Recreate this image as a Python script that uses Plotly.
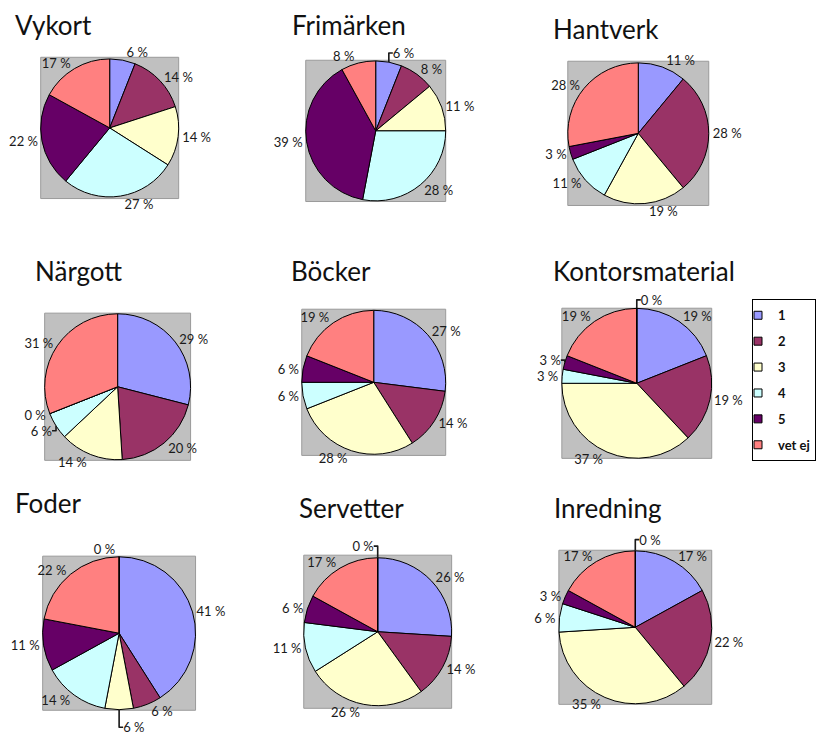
import plotly.graph_objects as go

W, H = 816, 742

# Answer categories (the last one is an unlabeled, empty category)
categories = ["1", "2", "3", "4", "5", "vet ej", "övrigt"]
legend_categories = ["1", "2", "3", "4", "5", "vet ej"]
colors = ["#9999FF", "#993366", "#FFFFCC", "#CCFFFF", "#660066", "#FF8080", "#FFFFFF"]

titles = ["Vykort", "Frimärken", "Hantverk",
          "Närgott", "Böcker", "Kontorsmaterial",
          "Foder", "Servetter", "Inredning"]

# Share of answers (%) per category
vykort = [6, 14, 14, 27, 22, 17]
frimarken = [6, 8, 11, 28, 39, 8]
hantverk = [11, 28, 19, 11, 3, 28]
nargott = [29, 20, 14, 6, 0, 31]
bocker = [27, 14, 28, 6, 6, 19]
kontorsmaterial = [19, 19, 37, 3, 3, 19, 0]
foder = [41, 6, 6, 14, 11, 22, 0]
servetter = [26, 14, 26, 11, 6, 17, 0]
inredning = [17, 22, 35, 6, 3, 17, 0]

series = [vykort, frimarken, hantverk, nargott, bocker,
          kontorsmaterial, foder, servetter, inredning]

# Plot-area boxes in pixels (x0, y0, x1, y1), top-left origin
boxes = [(41, 58, 180, 201), (308, 61, 449, 204), (572, 62, 714, 208),
         (45, 317, 192, 466), (304, 313, 449, 461), (566, 312, 717, 464),
         (43, 563, 197, 719), (306, 562, 455, 717), (563, 557, 717, 713)]
# Title anchor points in pixels (left, baseline)
title_pos = [(13, 34), (292, 34), (555, 38),
             (33, 283), (291, 283), (555, 283),
             (13, 518), (299, 523), (556, 523)]

FONT = "Lato, 'Open Sans', sans-serif"


def px_x(x):
    return x / W


def px_y(y):
    return 1 - y / H


fig = go.Figure()

shapes = []
annotations = []
for name, vals, (x0, y0, x1, y1), (tx, ty) in zip(titles, series, boxes, title_pos):
    n = len(vals)
    fig.add_trace(go.Pie(
        labels=categories[:n],
        values=vals,
        name=name,
        sort=False,
        direction="clockwise",
        rotation=0,
        marker=dict(colors=colors[:n], line=dict(color="#000000", width=1)),
        texttemplate="%{value} %",
        textposition="outside",
        textfont=dict(family=FONT, size=13, color="#1A1A1A"),
        domain=dict(x=[px_x(x0), px_x(x1)], y=[px_y(y1), px_y(y0)]),
        showlegend=False,
        hoverinfo="label+value",
    ))
    shapes.append(dict(
        type="rect", xref="paper", yref="paper", layer="below",
        x0=px_x(x0), x1=px_x(x1), y0=px_y(y1), y1=px_y(y0),
        fillcolor="#C0C0C0", line=dict(color="#9A9A9A", width=1),
    ))
    annotations.append(dict(
        text=name, xref="paper", yref="paper", showarrow=False,
        x=px_x(tx), y=px_y(ty - 9), xanchor="left", yanchor="middle",
        font=dict(family=FONT, size=26, color="#111111"),
    ))

# Legend entries
for cat, col in zip(legend_categories, colors):
    fig.add_trace(go.Scatter(
        x=[None], y=[None], mode="markers", name=cat, legendgroup=cat,
        marker=dict(symbol="square", size=8, color=col,
                    line=dict(color="#000000", width=1)),
        showlegend=True,
    ))

fig.update_layout(
    width=W, height=H,
    margin=dict(l=0, r=0, t=0, b=0),
    paper_bgcolor="#FFFFFF", plot_bgcolor="#FFFFFF",
    xaxis=dict(visible=False), yaxis=dict(visible=False),
    shapes=shapes, annotations=annotations,
    legend=dict(
        x=px_x(758), y=px_y(303), xanchor="left", yanchor="top",
        bordercolor="#000000", borderwidth=1, bgcolor="#FFFFFF",
        font=dict(family=FONT, size=13, color="#111111", weight="bold"),
        tracegroupgap=6, indentation=-15,
    ),
)

fig.write_html("out.html")
